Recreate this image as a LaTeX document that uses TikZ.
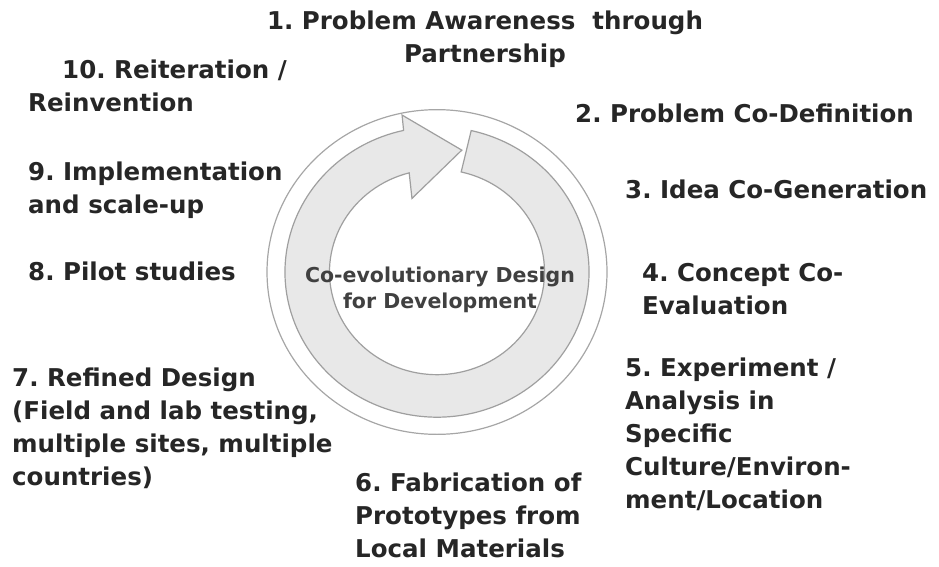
\documentclass[tikz,border=0pt]{standalone}
\usepackage{fontspec}
\setmainfont{DejaVu Sans}
\usepackage{xcolor}
\usepackage{tikz}
\usetikzlibrary{positioning,calc}

\begin{document}
\begin{tikzpicture}[
					x=1pt, y=1pt,
					stagetext/.style={          % Nhãn các bước (neo ở dòng cuối)
						font=\fontsize{24.5}{33}\selectfont\bfseries\frenchspacing,
						text=black!85,
						align=left,
						anchor=base west,
						inner sep=0pt
					},
					hubtext/.style={            % Chữ ở giữa vòng
						font=\fontsize{20.5}{26}\selectfont\bfseries\frenchspacing,
						text=black!75,
						align=center,
						anchor=base,
						inner sep=0pt
					},
					ring/.style={
						draw=gray!70, line width=1.2pt
					},
					band/.style={               % Mũi tên vòng tròn
						draw=gray!75, line width=1.2pt,
						fill=gray!18
					}
					]
					\useasboundingbox (0,0) rectangle (939,-567);
					
					% --- VÒNG TRÒN + MŨI TÊN ---
					\begin{scope}[shift={(437,-272)}, yscale=0.955]
						\draw[ring] (0,0) circle[radius=170];
						\filldraw[band] (77:152) arc[start angle=77, end angle=-257.3, radius=152]
							-- (102:168) -- (79:130) -- (108:81) -- (-255:107.5)
							arc[start angle=-255, end angle=77, radius=107.5] -- cycle;
					\end{scope}
					\node[hubtext] (hub) at (440,-308) {Co-evolutionary Design\\for Development};
					
					% --- CÁC BƯỚC ---
					\node[stagetext, align=center, anchor=base] (s1) at (485,-63) {1. Problem Awareness\ \ through\\Partnership};
					\node[stagetext] (s2) at (575,-123) {2. Problem Co-Definition};
					\node[stagetext] (s3) at (625,-198) {3. Idea Co-Generation};
					\node[stagetext] (s4) at (642,-314) {4. Concept Co-\\Evaluation};
					\node[stagetext] (s5) at (625,-508) {5. Experiment /\\Analysis in\\Specific\\Culture/Environ-\\ment/Location};
					\node[stagetext] (s6) at (355,-557) {6. Fabrication of\\Prototypes from\\Local Materials};
					\node[stagetext] (s7) at (12,-485) {7. Refined Design\\(Field and lab testing,\\multiple sites, multiple\\countries)};
					\node[stagetext] (s8) at (28,-280) {8. Pilot studies};
					\node[stagetext] (s9) at (28,-213) {9. Implementation\\and scale-up};
					\node[stagetext] (s10) at (28,-112) {\hspace*{34pt}10. Reiteration /\\Reinvention};
					
				\end{tikzpicture}
\end{document}
